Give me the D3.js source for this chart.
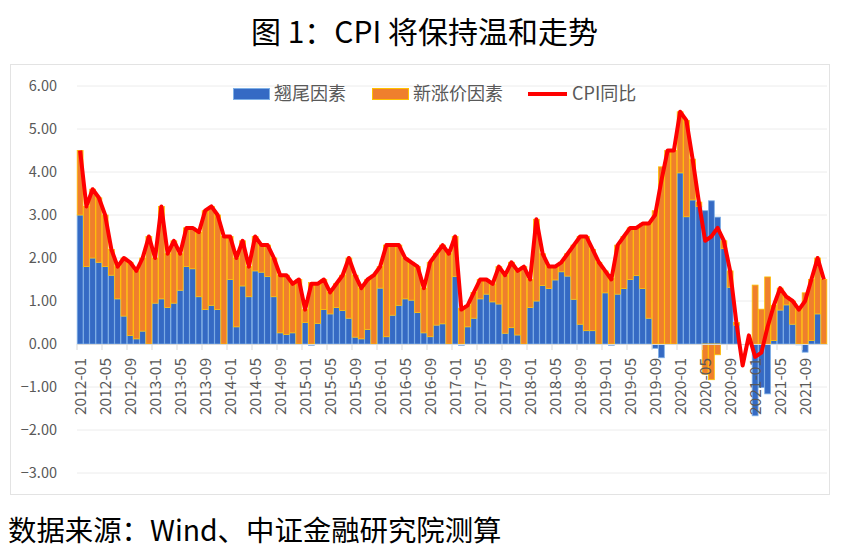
<!DOCTYPE html>
<html>
<head>
<meta charset="utf-8">
<script src="https://cdn.jsdelivr.net/npm/d3@7"></script>
<style>
    body { margin: 0; background: #fff; }
    svg text { font-family: "Noto Sans CJK SC", "Noto Sans", sans-serif; }
</style>
</head>
<body>
<div id="chart"></div>
<script>
// Months 2012-01 .. 2021-12
const years = [2012, 2013, 2014, 2015, 2016, 2017, 2018, 2019, 2020, 2021];
const months = years.flatMap(y => d3.range(1, 13).map(m => `${y}-${String(m).padStart(2, "0")}`));

// 翘尾因素
const tailValues = [
    3.0, 1.8, 2.0, 1.9, 1.8, 1.6, 1.05, 0.65, 0.2, 0.12, 0.3, 0,
    0.95, 1.05, 0.85, 0.95, 1.25, 1.8, 1.75, 1.1, 0.8, 0.9, 0.8, 0,
    1.5, 0.4, 1.35, 1.1, 1.7, 1.67, 1.57, 1.1, 0.26, 0.22, 0.26, 0,
    0.5, -0.03, 0.48, 0.8, 0.7, 0.85, 0.78, 0.6, 0.16, 0.12, 0.34, 0,
    1.3, 0.17, 0.67, 0.9, 1.05, 1.02, 0.73, 0.26, 0.17, 0.44, 0.47, 0,
    1.57, -0.03, 0.4, 0.6, 1.05, 1.16, 0.98, 0.93, 0.25, 0.38, 0.21, 0,
    0.85, 1.0, 1.36, 1.29, 1.49, 1.68, 1.58, 1.04, 0.46, 0.31, 0.31, 0,
    1.19, -0.03, 1.16, 1.29, 1.5, 1.59, 1.29, 0.6, -0.1, -0.32, 0, 0,
    3.98, 2.96, 3.35, 3.2, 3.1, 3.33, 2.95, 2.22, 1.32, 0.44, 0, 0,
    -1.67, -1.01, -1.16, 0.08, 0.79, 0.91, 0.46, -0.02, -0.19, 0.08, 0.7, 0
];

// 新涨价因素
const newPriceValues = [
    1.5, 1.4, 1.6, 1.5, 1.2, 0.6, 0.75, 1.35, 1.7, 1.58, 1.7, 2.5,
    1.05, 2.15, 1.25, 1.45, 0.85, 0.9, 0.95, 1.5, 2.3, 2.3, 2.2, 2.5,
    1.0, 1.6, 1.05, 0.7, 0.8, 0.63, 0.73, 0.9, 1.34, 1.38, 1.14, 1.5,
    0.3, 1.43, 0.92, 0.7, 0.5, 0.55, 0.82, 1.4, 1.44, 1.18, 1.16, 1.6,
    0.5, 2.13, 1.63, 1.4, 0.95, 0.88, 1.07, 1.04, 1.73, 1.66, 1.83, 2.1,
    0.93, 0.83, 0.5, 0.6, 0.45, 0.34, 0.42, 0.87, 1.35, 1.52, 1.49, 1.8,
    0.65, 1.9, 0.74, 0.51, 0.31, 0.22, 0.52, 1.26, 2.04, 2.19, 1.89, 1.9,
    0.51, 1.53, 1.14, 1.21, 1.2, 1.11, 1.51, 2.2, 3.1, 4.12, 4.5, 4.5,
    1.42, 2.24, 0.95, 0.1, -0.7, -0.83, -0.25, 0.18, 0.38, 0.06, 0, 0,
    1.37, 0.81, 1.56, 0.82, 0.51, 0.19, 0.54, 0.82, 1.19, 1.42, 1.3, 1.5
];

// CPI同比
const cpiValues = [
    4.5, 3.2, 3.6, 3.4, 3.0, 2.2, 1.8, 2.0, 1.9, 1.7, 2.0, 2.5,
    2.0, 3.2, 2.1, 2.4, 2.1, 2.7, 2.7, 2.6, 3.1, 3.2, 3.0, 2.5,
    2.5, 2.0, 2.4, 1.8, 2.5, 2.3, 2.3, 2.0, 1.6, 1.6, 1.4, 1.5,
    0.8, 1.4, 1.4, 1.5, 1.2, 1.4, 1.6, 2.0, 1.6, 1.3, 1.5, 1.6,
    1.8, 2.3, 2.3, 2.3, 2.0, 1.9, 1.8, 1.3, 1.9, 2.1, 2.3, 2.1,
    2.5, 0.8, 0.9, 1.2, 1.5, 1.5, 1.4, 1.8, 1.6, 1.9, 1.7, 1.8,
    1.5, 2.9, 2.1, 1.8, 1.8, 1.9, 2.1, 2.3, 2.5, 2.5, 2.2, 1.9,
    1.7, 1.5, 2.3, 2.5, 2.7, 2.7, 2.8, 2.8, 3.0, 3.8, 4.5, 4.5,
    5.4, 5.2, 4.3, 3.3, 2.4, 2.5, 2.7, 2.4, 1.7, 0.5, -0.5, 0.2,
    -0.3, -0.2, 0.4, 0.9, 1.3, 1.1, 1.0, 0.8, 1.0, 1.5, 2.0, 1.5
];

const yTicks = [-3, -2, -1, 0, 1, 2, 3, 4, 5, 6];
const seriesNames = ["翘尾因素", "新涨价因素", "CPI同比"];

const width = 849;
const height = 559;
const plot = { left: 77, right: 827, top: 86, bottom: 473 };

const data = months.map((m, i) => ({ month: m, tail: tailValues[i], newp: newPriceValues[i], cpi: cpiValues[i] }));

const svg = d3.select("#chart").append("svg")
    .attr("width", width)
    .attr("height", height);

// Title
svg.append("text")
    .attr("x", width / 2)
    .attr("y", 43)
    .attr("text-anchor", "middle")
    .style("font-size", "30px")
    .style("fill", "#000")
    .text("图 1：CPI 将保持温和走势");

// Chart area frame
svg.append("rect")
    .attr("x", 10.5)
    .attr("y", 64.5)
    .attr("width", 819)
    .attr("height", 430)
    .attr("fill", "none")
    .attr("stroke", "#e3e3e3");

const x = d3.scaleBand()
    .domain(months)
    .range([plot.left, plot.right])
    .paddingInner(0.06)
    .paddingOuter(0.03);

const y = d3.scaleLinear()
    .domain([-3, 6])
    .range([plot.bottom, plot.top]);

// Gridlines
svg.append("g")
    .selectAll("line")
    .data(yTicks.filter(d => d !== 0))
    .enter()
    .append("line")
    .attr("x1", plot.left)
    .attr("x2", plot.right)
    .attr("y1", d => y(d))
    .attr("y2", d => y(d))
    .attr("stroke", "#ececec")
    .attr("stroke-width", 1);

// Y axis labels
const yAxis = svg.append("g")
    .attr("transform", `translate(${plot.left}, 0)`)
    .call(d3.axisLeft(y).tickValues(yTicks).tickFormat(d3.format(".2f")).tickSize(0).tickPadding(20));
yAxis.select(".domain").remove();
yAxis.selectAll("text")
    .style("font-size", "14.5px")
    .style("fill", "#595959");

// Stacked bars
const stack = d3.stack()
    .keys(["tail", "newp"])
    .offset(d3.stackOffsetDiverging);
const stacked = stack(data);
const fills = { tail: "#356ac4", newp: "#ef7f2d" };
const strokes = { tail: "#7fb0e6", newp: "#ffc000" };

svg.append("g")
    .selectAll("g")
    .data(stacked)
    .enter()
    .append("g")
    .attr("fill", s => fills[s.key])
    .attr("stroke", s => strokes[s.key])
    .attr("stroke-width", 0.8)
    .selectAll("rect")
    .data(s => s)
    .enter()
    .append("rect")
    .attr("x", d => x(d.data.month))
    .attr("width", x.bandwidth())
    .attr("y", d => y(Math.max(d[0], d[1])))
    .attr("height", d => Math.abs(y(d[0]) - y(d[1])));

// X axis at zero
const tickMonths = months.filter((m, i) => i % 4 === 0);
const xAxis = svg.append("g")
    .attr("transform", `translate(0, ${y(0)})`)
    .call(d3.axisBottom(x).tickValues(tickMonths).tickSize(0).tickSizeOuter(0));
xAxis.select(".domain").attr("stroke", "#d9d9d9");
xAxis.selectAll("text")
    .attr("transform", "rotate(-90)")
    .attr("x", -14)
    .attr("y", 0)
    .attr("dy", "0.36em")
    .style("text-anchor", "end")
    .style("font-size", "15.5px")
    .style("fill", "#595959");

const step = x.step();
svg.append("g")
    .selectAll("line")
    .data(tickMonths)
    .enter()
    .append("line")
    .attr("x1", d => x(d) - step * x.paddingInner() / 2)
    .attr("x2", d => x(d) - step * x.paddingInner() / 2)
    .attr("y1", y(0))
    .attr("y2", y(0) + 6)
    .attr("stroke", "#d9d9d9");

// CPI line
const line = d3.line()
    .x(d => x(d.month) + x.bandwidth() / 2)
    .y(d => y(d.cpi));

svg.append("path")
    .datum(data)
    .attr("fill", "none")
    .attr("stroke", "#ff0000")
    .attr("stroke-width", 4)
    .attr("stroke-linejoin", "round")
    .attr("d", line);

// Legend
const legend = svg.append("g").attr("transform", "translate(233, 94)");
const legendItems = [
    { name: seriesNames[0], type: "rect", fill: fills.tail, stroke: strokes.tail, x: 0, w: 36 },
    { name: seriesNames[1], type: "rect", fill: fills.newp, stroke: strokes.newp, x: 139, w: 36 },
    { name: seriesNames[2], type: "line", x: 295, w: 39 }
];
legendItems.forEach(item => {
    const g = legend.append("g").attr("transform", `translate(${item.x}, 0)`);
    if (item.type === "rect") {
        g.append("rect")
            .attr("x", 0.5).attr("y", -5.5)
            .attr("width", item.w).attr("height", 11)
            .attr("fill", item.fill)
            .attr("stroke", item.stroke);
    } else {
        g.append("line")
            .attr("x1", 0).attr("x2", item.w)
            .attr("y1", 0).attr("y2", 0)
            .attr("stroke", "#ff0000")
            .attr("stroke-width", 4);
    }
    g.append("text")
        .attr("x", item.w + 5)
        .attr("y", 0)
        .attr("dy", "0.35em")
        .style("font-size", "18px")
        .style("fill", "#595959")
        .text(item.name);
});

// Footer
svg.append("text")
    .attr("x", 8)
    .attr("y", 541)
    .style("font-size", "28.4px")
    .style("fill", "#000")
    .text("数据来源：Wind、中证金融研究院测算");
</script>
</body>
</html>
